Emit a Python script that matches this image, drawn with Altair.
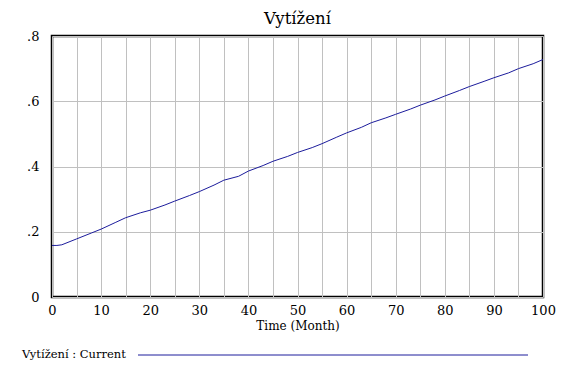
import altair as alt
import pandas as pd

months = [0, 1, 2, 5, 8, 10, 13, 15, 18, 20, 23, 25, 28, 30, 33, 35, 38, 40, 43, 45,
          48, 50, 53, 55, 58, 60, 63, 65, 68, 70, 73, 75, 78, 80, 83, 85, 88, 90, 93, 95, 98, 100]
vytizeni = [0.158, 0.158, 0.160, 0.178, 0.196, 0.208, 0.229, 0.243, 0.258, 0.266, 0.282, 0.294,
            0.311, 0.323, 0.343, 0.358, 0.370, 0.386, 0.403, 0.416, 0.431, 0.443, 0.458, 0.470,
            0.490, 0.503, 0.520, 0.534, 0.549, 0.560, 0.576, 0.588, 0.604, 0.616, 0.633, 0.645,
            0.661, 0.672, 0.687, 0.700, 0.715, 0.728]
x_grid = list(range(0, 101, 5))
y_ticks = [0, 0.2, 0.4, 0.6, 0.8]

title = "Vytížení"
legend_label = "Vytížení : Current"
x_title = "Time (Month)"
line_color = "#1c1c9c"
font = "DejaVu Serif"

df = pd.DataFrame({"Time": months, "Value": vytizeni})

W, H = 491, 261

line = alt.Chart(df).mark_line(color=line_color, strokeWidth=1).encode(
    x=alt.X("Time:Q", scale=alt.Scale(domain=[0, 100], nice=False),
            axis=alt.Axis(values=x_grid, title=x_title, grid=True, gridColor="#c0c0c0",
                          gridOpacity=1, ticks=False, domain=False,
                          labelExpr="datum.value % 10 == 0 ? datum.label : ''",
                          labelPadding=7, titlePadding=3, labelFontSize=13, titleFontSize=12,
                          titleFontWeight="normal", labelFont=font, titleFont=font,
                          labelColor="black", titleColor="black", labelFlush=False,
                          labelOverlap=False)),
    y=alt.Y("Value:Q", scale=alt.Scale(domain=[0, 0.8], nice=False),
            axis=alt.Axis(values=y_ticks, title=None, grid=True, gridColor="#c0c0c0",
                          gridOpacity=1, ticks=False, domain=False,
                          labelExpr="datum.value == 0 ? '0' : substring(format(datum.value, '.1f'), 1)",
                          labelPadding=13, labelFontSize=13, labelFont=font,
                          labelColor="black", labelFlush=False)),
)

title_text = alt.Chart(pd.DataFrame({"t": [title]})).mark_text(
    align="center", baseline="alphabetic", font=font, fontSize=16.5, color="black"
).encode(text="t:N", x=alt.value(W / 2), y=alt.value(-12))

legend_text = alt.Chart(pd.DataFrame({"t": [legend_label]})).mark_text(
    align="left", baseline="middle", font=font, fontSize=11.5, color="black"
).encode(text="t:N", x=alt.value(-30), y=alt.value(319))

legend_rule = alt.Chart(pd.DataFrame({"a": [0]})).mark_rule(
    color=line_color, strokeWidth=1
).encode(x=alt.value(86), x2=alt.value(476), y=alt.value(319))

chart = alt.layer(line, title_text, legend_text, legend_rule).properties(
    width=W, height=H,
    autosize=alt.AutoSizeParams(type="none"),
    padding={"left": 44, "top": 28, "right": 17, "bottom": 65},
).configure(background="white").configure_view(stroke="black", strokeWidth=2.5)

chart.save("out.html", embed_options={"renderer": "svg", "actions": False})
